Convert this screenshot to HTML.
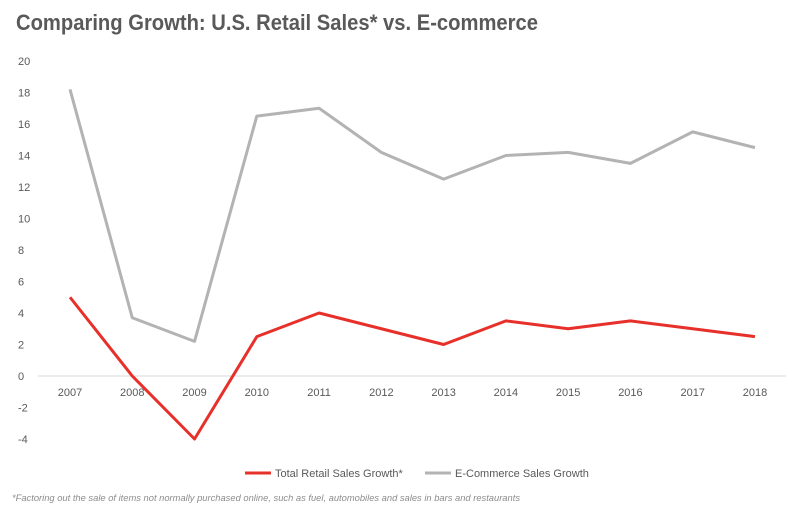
<!DOCTYPE html>
<html><head><meta charset="utf-8"><style>
body{margin:0;background:#fff;width:805px;height:516px;overflow:hidden}
svg text{font-family:"Liberation Sans",sans-serif}
</style></head><body>
<svg width="805" height="516">
<text x="16" y="30" font-size="22" font-weight="bold" fill="#595959" textLength="522" lengthAdjust="spacingAndGlyphs">Comparing Growth: U.S. Retail Sales* vs. E-commerce</text>
<g id="yaxis"></g>
<g id="xaxis"></g>
<g id="series"></g>
<g>
<line x1="245" y1="473" x2="271" y2="473" stroke="#e8302a" stroke-width="3"/>
<text x="275" y="477" font-size="11" fill="#595959">Total Retail Sales Growth*</text>
<line x1="425" y1="473" x2="451" y2="473" stroke="#b3b3b3" stroke-width="3"/>
<text x="455" y="477" font-size="11" fill="#595959">E-Commerce Sales Growth</text>
</g>
<text x="12" y="501" font-size="9" font-style="italic" fill="#8c8c8c" textLength="508" lengthAdjust="spacingAndGlyphs">*Factoring out the sale of items not normally purchased online, such as fuel, automobiles and sales in bars and restaurants</text>
</svg>
<script>
const years=["2007","2008","2009","2010","2011","2012","2013","2014","2015","2016","2017","2018"];
const retail=[5,0,-4,2.5,4,3,2,3.5,3,3.5,3,2.5];
const ecommerce=[18.2,3.7,2.2,16.5,17,14.2,12.5,14,14.2,13.5,15.5,14.5];
const yTicks=[20,18,16,14,12,10,8,6,4,2,0,-2,-4];
const NS="http://www.w3.org/2000/svg";
function y(v){return 376-v*15.75;}
function x(i){return 70+i*62.27;}
function mk(tag,attrs,parent){const e=document.createElementNS(NS,tag);for(const k in attrs)e.setAttribute(k,attrs[k]);parent.appendChild(e);return e;}
const ya=document.getElementById('yaxis'),xa=document.getElementById('xaxis'),se=document.getElementById('series');
yTicks.forEach(v=>{const t=mk('text',{x:18,y:y(v)+4,'font-size':11,fill:'#595959'},ya);t.textContent=v;

});
const ax=mk('line',{x1:38,x2:786,y1:y(0),y2:y(0),stroke:'#d9d9d9','stroke-width':1},xa);


years.forEach((yr,i)=>{const t=mk('text',{x:x(i),y:396,'font-size':11,fill:'#595959','text-anchor':'middle'},xa);t.textContent=yr;

});
function line(data,color,name){const p=mk('polyline',{points:data.map((v,i)=>x(i)+','+y(v)).join(' '),fill:'none',stroke:color,'stroke-width':3,'stroke-linejoin':'round'},se);

}
line(ecommerce,'#b3b3b3','ecommerce-line');
line(retail,'#e8302a','retail-line');
</script>
</body></html>
